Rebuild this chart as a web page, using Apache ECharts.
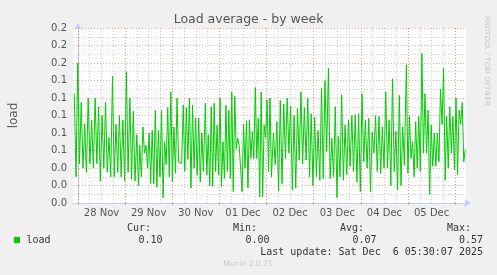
<!DOCTYPE html>
<html><head><meta charset="utf-8">
<script src="https://cdn.jsdelivr.net/npm/echarts@6/dist/echarts.min.js"></script>
<style>html,body{margin:0;padding:0;background:#f0f0f0;}#c{width:497px;height:275px;}</style>
</head><body><div id="c"></div>
<script>
// ---- data (hours relative to 28 Nov 00:00) ----
const chartTitle = 'Load average - by week';
const yAxisName = 'load';
const dayLabels = ['28 Nov','29 Nov','30 Nov','01 Dec','02 Dec','03 Dec','04 Dec','05 Dec'];
const dayLabelHours = [12,36,60,84,108,132,156,180];
const midnightHours = [0,24,48,72,96,120,144,168,192];
const sixHourMarks = [0,6,12,18,24,30,36,42,48,54,60,66,72,78,84,90,96,102,108,114,120,126,132,138,144,150,156,162,168,174,180,186,192];
const yTickLabels = ['0.0','0.0','0.0','0.1','0.1','0.1','0.1','0.1','0.2','0.2','0.2'];
const xRange = [-2.5, 197.5];

const loadSeg1 = [0.125,0.03,0.16,0.045,0.115,0.04,0.09,0.035,0.12,0.045,0.095,0.04,0.12,0.045,0.11,0.025,0.10,0.04,0.115,0.035,0.075,0.03,0.145,0.03,0.09,0.035,0.10,0.03,0.095,0.025,0.15,0.035,0.12,0.027,0.105,0.025,0.078,0.02];
const loadSeg2 = [0.066,0.03,0.087,0.057,0.066,0.04,0.08,0.022,0.083,0.022,0.106,0.018,0.083,0.03,0.106,0.006,0.07,0.044,0.109,0.03,0.127,0.024,0.087,0.034,0.12,0.047,0.049,0.045,0.112,0.036,0.109,0.05,0.12,0.017,0.112,0.04,0.097,0.032,0.097,0.024,0.08,0.036];
const loadSeg3 = [0.114,0.032,0.078,0.02,0.11,0.019,0.114,0.036,0.089,0.032,0.12,0.019,0.07,0.028,0.112,0.036,0.106,0.028,0.127,0.013,0.122,0.062,0.074,0.066,0.068,0.013,0.09,0.04,0.094,0.017,0.095,0.051,0.082,0.051,0.132,0.051,0.097,0.007,0.127,0.007,0.089,0.075,0.118,0.036,0.12,0.03];
const loadSeg4 = [0.08,0.044,0.093,0.014,0.117,0.022,0.113,0.051,0.12,0.057,0.111,0.015,0.1,0.017,0.108,0.049,0.127,0.045,0.109,0.049,0.12,0.03,0.102,0.02,0.098,0.03,0.083,0.026,0.131,0.028,0.14,0.059,0.154,0.028,0.074,0.03,0.11,0.006];
const loadSeg5 = [0.076,0.03,0.124,0.026,0.089,0.032,0.095,0.042,0.1,0.036,0.101,0.024,0.102,0.013,0.125,0.047,0.095,0.04,0.097,0.013,0.081,0.057,0.1,0.036,0.099,0.034,0.087,0.04,0.127,0.04,0.095,0.02,0.142,0.036,0.082,0.015,0.123,0.02,0.087,0.043];
const loadSeg6 = [0.158,0.034,0.099,0.051,0.07,0.03,0.093,0.04,0.099,0.036,0.171,0.057,0.125,0.057,0.106,0.01,0.089,0.042,0.08,0.042,0.08,0.047,0.13,0.09,0.154,0.026,0.099,0.04,0.11,0.057,0.099,0.038,0.12,0.032,0.106,0.09,0.115,0.047,0.061];
const segSpanHours = [[-1.85,30.85],[31.5,63.85],[64.85,98.5],[99.5,131.85],[132.5,166.15],[167.15,197.15]];

const legendName = 'load';
const statHeaders = ['Cur:','Min:','Avg:','Max:'];
const statValues = ['0.10','0.00','0.07','0.57'];
const lastUpdate = 'Last update: Sat Dec  6 05:30:07 2025';
const footer = 'Munin 2.0.75';
const sideText = 'RRDTOOL / TOBI OETIKER';

// ---- build ----
const segments = [loadSeg1,loadSeg2,loadSeg3,loadSeg4,loadSeg5,loadSeg6];
const lineData = [];
segments.forEach((vals, s) => {
  const a = segSpanHours[s][0], b = segSpanHours[s][1];
  vals.forEach((v, i) => lineData.push([a + (b - a) * i / (vals.length - 1), v]));
});

const GREEN = '#00cc00';
const AXIS = '#c6cbf2';
const MAJ = 'rgba(230,110,110,0.6)';
const MIN = 'rgba(150,150,150,0.45)';
const TXT = '#555';
const MONO = '"DejaVu Sans Mono", monospace';
const SANS = '"DejaVu Sans", sans-serif';

const statHeaderX = [127, 233, 340, 447];
const statValueRight = [162.5, 269.5, 376.5, 483];

const graphic = [
  {type:'text', left:'center', top:13, style:{text:chartTitle, font:'12.5px '+SANS, fill:TXT}},
  {type:'text', x:487, y:16, rotation:-Math.PI/2, style:{text:sideText, font:'7px '+SANS, fill:'#c8c8c8', textAlign:'left', textVerticalAlign:'middle'}},
  {type:'rect', shape:{x:14, y:237, width:6, height:6}, style:{fill:GREEN}},
  {type:'text', x:26.5, y:240, style:{text:legendName, font:'10px '+MONO, fill:'#333', textAlign:'left', textVerticalAlign:'middle'}},
  {type:'text', x:483, y:252, style:{text:lastUpdate, font:'10px '+MONO, fill:'#333', textAlign:'right', textVerticalAlign:'middle'}},
  {type:'text', x:248, y:264, style:{text:footer, font:'7.5px '+SANS, fill:'#c8c8c8', textAlign:'center', textVerticalAlign:'middle'}}
];
statHeaders.forEach((h, i) => {
  graphic.push({type:'text', x:statHeaderX[i], y:228.5, style:{text:h, font:'10px '+MONO, fill:'#333', textAlign:'left', textVerticalAlign:'middle'}});
  graphic.push({type:'text', x:statValueRight[i], y:240, style:{text:statValues[i], font:'10px '+MONO, fill:'#333', textAlign:'right', textVerticalAlign:'middle'}});
});

const chart = echarts.init(document.getElementById('c'), null, {renderer:'canvas'});
chart.setOption({
  animation:false,
  backgroundColor:'#f0f0f0',
  grid:{left:66, top:28, width:400, height:175, show:true, backgroundColor:'#ffffff', borderWidth:0, containLabel:false},
  xAxis:[
    {type:'value', min:xRange[0], max:xRange[1], position:'bottom',
     axisLine:{show:true, lineStyle:{color:AXIS, width:1}, symbol:['none','arrow'], symbolSize:[6,7], symbolOffset:[0,5]},
     axisTick:{show:true, customValues:midnightHours, length:2, lineStyle:{color:MAJ}},
     axisLabel:{show:true, customValues:dayLabelHours, formatter:(v)=>dayLabels[dayLabelHours.indexOf(v)], color:TXT, fontSize:10, fontFamily:SANS, margin:5},
     splitLine:{show:true, lineStyle:{color:MAJ, width:1, type:[1,2]}},
     z:3},
    {type:'value', min:xRange[0], max:xRange[1], position:'bottom',
     axisLine:{show:false}, axisLabel:{show:false},
     axisTick:{show:false, customValues:sixHourMarks},
     splitLine:{show:true, lineStyle:{color:MIN, width:1, type:[1,2]}},
     z:1}
  ],
  yAxis:{type:'value', min:0, max:0.2, interval:0.02,
    name:yAxisName, nameLocation:'middle', nameGap:53, nameRotate:90,
    nameTextStyle:{color:TXT, fontSize:12, fontFamily:SANS},
    axisLine:{show:true, lineStyle:{color:AXIS, width:1}, symbol:['none','arrow'], symbolSize:[6,7], symbolOffset:[0,5]},
    axisTick:{show:false},
    axisLabel:{formatter:(v, i)=>yTickLabels[i], color:TXT, fontSize:10, fontFamily:SANS, margin:6},
    splitLine:{show:true, lineStyle:{color:MAJ, width:1, type:[1,2]}},
    minorTick:{show:false, splitNumber:2},
    minorSplitLine:{show:true, lineStyle:{color:MIN, width:1, type:[1,2]}}
  },
  series:[{type:'line', name:legendName, xAxisIndex:0, data:lineData, showSymbol:false, symbol:'none',
    lineStyle:{color:GREEN, width:1}, itemStyle:{color:GREEN}, clip:true, z:5}],
  graphic:graphic
});
</script></body></html>
